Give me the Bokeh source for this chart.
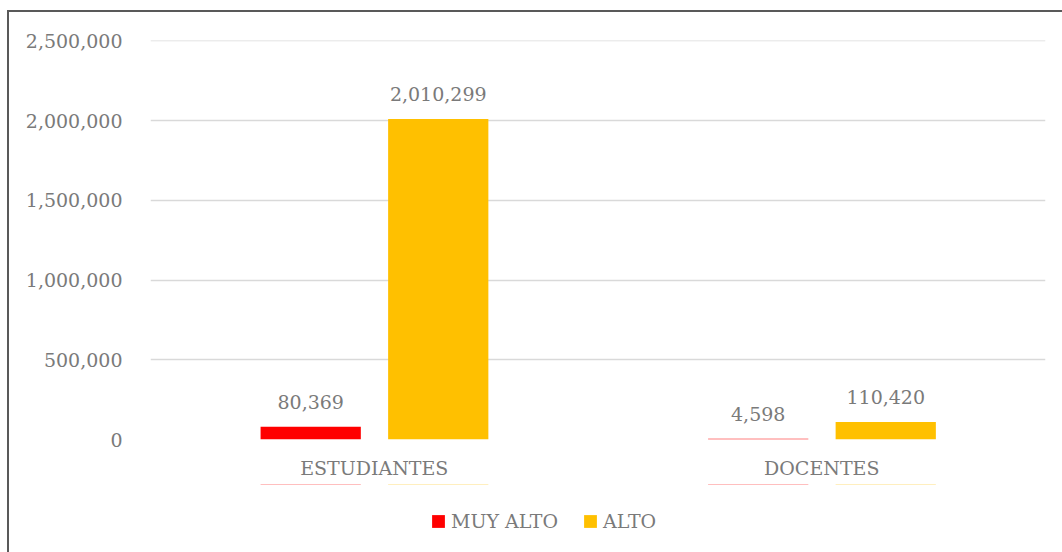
from bokeh.plotting import figure
from bokeh.layouts import column
from bokeh.models import ColumnDataSource, FactorRange, Legend, LegendItem, NumeralTickFormatter, LabelSet, Range1d
from bokeh.transform import dodge
from bokeh.core.properties import value
from bokeh.embed import file_html
from bokeh.resources import INLINE

categories = ["ESTUDIANTES", "DOCENTES"]
muy_alto = [80369, 4598]
alto = [2010299, 110420]
series_names = ["MUY ALTO", "ALTO"]
series_colors = ["#FF0000", "#FFC000"]
y_ticks = [0, 500000, 1000000, 1500000, 2000000, 2500000]

FONT = "DejaVu Serif"
TXT = "#7a7a7a"

src = ColumnDataSource(dict(
    cat=categories,
    muy=muy_alto,
    alto=alto,
    muy_lbl=[f"{v:,}" for v in muy_alto],
    alto_lbl=[f"{v:,}" for v in alto],
))

xr = FactorRange(factors=categories, range_padding=0)

p = figure(
    x_range=xr,
    y_range=(0, 2502500),
    frame_width=895, frame_height=399,
    output_backend="svg", toolbar_location=None,
    min_border_left=141, min_border_right=17, min_border_top=28, min_border_bottom=45,
)
p.outline_line_color = None
p.background_fill_color = "white"

r1 = p.vbar(x=dodge("cat", -0.142, range=xr), top="muy", width=0.224, source=src,
            fill_color=series_colors[0], line_color=None)
r2 = p.vbar(x=dodge("cat", 0.143, range=xr), top="alto", width=0.224, source=src,
            fill_color=series_colors[1], line_color=None)

for col, lbl, off in [("muy", "muy_lbl", -0.142), ("alto", "alto_lbl", 0.143)]:
    ls = LabelSet(x=dodge("cat", off, range=xr), y=col, text=lbl, source=src,
                  text_align="center", text_baseline="bottom", y_offset=18,
                  text_font=value(FONT), text_font_size="19px", text_color=TXT)
    p.add_layout(ls)

p.yaxis.ticker = y_ticks
p.yaxis.formatter = NumeralTickFormatter(format="0,0")
for ax in (p.xaxis[0], p.yaxis[0]):
    ax.axis_line_color = None
    ax.major_tick_line_color = None
    ax.minor_tick_line_color = None
    ax.major_label_text_font = FONT
    ax.major_label_text_font_size = "19px"
    ax.major_label_text_color = TXT
p.yaxis.major_label_standoff = 22
p.xaxis.major_label_standoff = 11

p.xgrid.grid_line_color = None
p.ygrid.grid_line_color = "#d9d9d9"
p.ygrid.grid_line_width = 1.5

# legend strip (separate figure so the legend is not clipped by the main frame);
# its bars use the same data but lie well outside this strip's visible y range
p2 = figure(width=1053, height=68, x_range=xr, y_range=Range1d(-10000000, -9000000),
            x_axis_type=None, y_axis_type=None,
            output_backend="svg", toolbar_location=None,
            min_border_left=141, min_border_right=17, min_border_top=0, min_border_bottom=0)
p2.outline_line_color = None
p2.xgrid.visible = False
p2.ygrid.visible = False
lr1 = p2.vbar(x=dodge("cat", -0.142, range=xr), top="muy", width=0.224, source=src,
              fill_color=series_colors[0], line_color=None)
lr2 = p2.vbar(x=dodge("cat", 0.143, range=xr), top="alto", width=0.224, source=src,
              fill_color=series_colors[1], line_color=None)

legend = Legend(items=[LegendItem(label=series_names[0], renderers=[lr1]),
                       LegendItem(label=series_names[1], renderers=[lr2])],
                orientation="horizontal", location=(280, 20))
legend.label_text_font = FONT
legend.label_text_font_size = "19px"
legend.label_text_color = TXT
legend.glyph_width = 16
legend.glyph_height = 16
legend.label_standoff = 5
legend.spacing = 24
legend.border_line_color = None
legend.background_fill_alpha = 0
legend.padding = 0
legend.margin = 0
p2.add_layout(legend, "center")

lay = column(p, p2, spacing=0)
lay.styles = {"border-top": "2px solid #595959", "border-left": "2px solid #595959",
              "margin-top": "10px", "margin-left": "7px"}

open("out.html", "w").write(file_html(lay, INLINE))
